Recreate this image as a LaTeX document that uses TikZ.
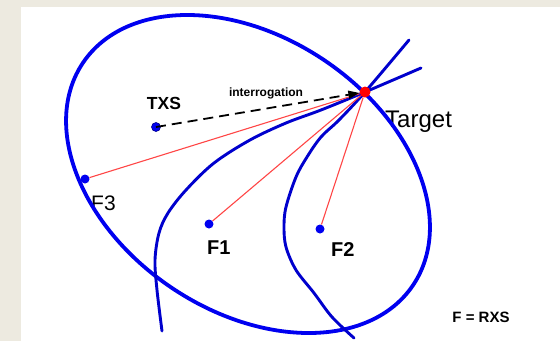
\documentclass[tikz,border=0pt]{standalone}
\usepackage{fontspec}
\setmainfont{Liberation Sans}
\usetikzlibrary{arrows.meta}
\definecolor{pagebg}{RGB}{237,234,224}
\definecolor{ringblue}{RGB}{0,0,240}
\definecolor{hypblue}{RGB}{0,0,205}
\definecolor{rayred}{RGB}{255,70,70}

\begin{document}
\begin{tikzpicture}[x=1pt, y=-1pt,
  station/.style={circle, fill=ringblue, inner sep=0pt, minimum size=9pt},
  ray/.style={draw=rayred, line width=1.1pt},
  branch/.style={draw=hypblue, line width=2.9pt, line cap=round},
  lbl/.style={anchor=base west, inner sep=0pt, text=black}]
\fill[pagebg] (0,0) rectangle (560,341);
\fill[white] (21,7) rectangle (560,341);
\useasboundingbox (0,0) rectangle (560,341);
% labels
\node[font=\bfseries\fontsize{17.5}{20}\selectfont] (txslbl) at (164,103) {TXS};
\node[anchor=base, font=\bfseries\fontsize{12}{14}\selectfont] (intlbl) at (266,96) {interrogation};
\node[lbl, font=\fontsize{24}{28}\selectfont] (tgtlbl) at (385,127) {Target};
\node[lbl, font=\fontsize{21}{24}\selectfont] (f3lbl) at (91,210) {F3};
\node[lbl, font=\bfseries\fontsize{20}{24}\selectfont] (f1lbl) at (207,254) {F1};
\node[lbl, font=\bfseries\fontsize{20}{24}\selectfont] (f2lbl) at (331,256) {F2};
\node[anchor=base, font=\bfseries\fontsize{15}{18}\selectfont] (keylbl) at (481,322) {F = RXS};
% ellipse of equal delay and hyperbola branches
\draw[ringblue, line width=3.8pt, rotate around={-34:(248,174)}] (248,174) ellipse [x radius=199, y radius=137];
\draw[branch] plot[smooth, tension=0.55] coordinates {(162,331) (157,290) (155,260) (159,233) (168,213) (186,190) (214,163) (250,140) (286,123) (321,110) (365,92) (421,68)};
\draw[branch] plot[smooth, tension=0.55] coordinates {(354,338) (332,317) (314,293) (296,270) (286,247) (284,227) (286,207) (296,177) (307,157) (321,137) (339,120) (365,92) (409,40)};
% stations
\node[station, draw=blue!55!black, line width=0.6pt] (txs) at (156,127) {};
\node[station] (f3) at (85,179) {};
\node[station] (f1) at (209,224) {};
\node[station] (f2) at (320,229) {};
\node[circle, fill=red, inner sep=0pt, minimum size=11pt] (tgt) at (365,92) {};
\draw[ray] (tgt) -- (f3);
\draw[ray] (tgt) -- (f1);
\draw[ray] (tgt) -- (f2);
\draw[-{Triangle[length=11pt, width=8pt]}, line width=1.8pt, dash pattern=on 10pt off 6pt] (txs.center) -- (tgt);
\end{tikzpicture}
\end{document}
